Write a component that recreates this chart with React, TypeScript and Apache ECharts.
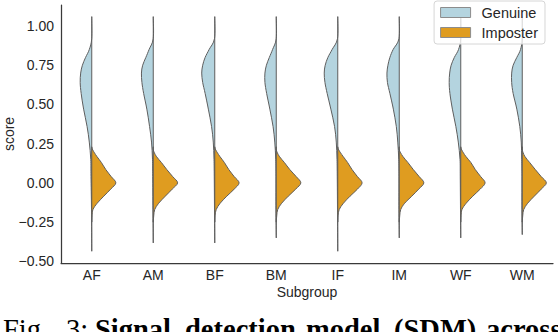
import React, { useEffect, useRef } from "react";
import * as echarts from "echarts";

// ---- data ----
const subgroups = ["AF", "AM", "BF", "BM", "IF", "IM", "WF", "WM"];
const yTickValues = [-0.5, -0.25, 0, 0.25, 0.5, 0.75, 1.0];

// Genuine (left half): score levels and relative density (1 = widest half of any violin)
const genuineLevels = [1.06, 0.92, 0.85, 0.8, 0.75, 0.7, 0.64, 0.57, 0.47, 0.36, 0.26, 0.15, 0.04, -0.17];
const genuineBottom = [-0.436, -0.383, -0.383, -0.351, -0.436, -0.351, -0.351, -0.33];
const genAF = [0, 0, 0.1, 0.25, 0.38, 0.45, 0.47, 0.43, 0.33, 0.19, 0.1, 0.04, 0.03, 0.01];
const genAM = [0, 0, 0.17, 0.3, 0.43, 0.48, 0.46, 0.39, 0.26, 0.15, 0.07, 0.03, 0.02, 0.01];
const genBF = [0, 0.01, 0.23, 0.39, 0.49, 0.53, 0.49, 0.39, 0.26, 0.13, 0.06, 0.03, 0.02, 0.01];
const genBM = [0, 0, 0.15, 0.28, 0.4, 0.46, 0.46, 0.39, 0.26, 0.13, 0.06, 0.02, 0.01, 0.01];
const genIF = [0, 0.01, 0.23, 0.4, 0.51, 0.55, 0.52, 0.43, 0.28, 0.13, 0.06, 0.03, 0.02, 0.01];
const genIM = [0, 0.01, 0.25, 0.38, 0.46, 0.5, 0.48, 0.38, 0.24, 0.12, 0.06, 0.02, 0.01, 0.01];
const genWF = [0, 0, 0.09, 0.26, 0.39, 0.45, 0.47, 0.44, 0.34, 0.2, 0.1, 0.03, 0.02, 0.01];
const genWM = [0, 0, 0.07, 0.22, 0.37, 0.43, 0.43, 0.37, 0.22, 0.1, 0.04, 0.02, 0.01, 0.01];

// Imposter (right half)
const imposterLevels = [0.23, 0.21, 0.17, 0.13, 0.085, 0.04, 0.0, -0.04, -0.085, -0.13, -0.17, -0.21, -0.25];
const impAF = [0, 0.04, 0.2, 0.39, 0.57, 0.79, 0.98, 0.77, 0.49, 0.22, 0.05, 0.01, 0];
const impAM = [0, 0, 0.12, 0.33, 0.55, 0.79, 0.99, 0.77, 0.49, 0.22, 0.06, 0.02, 0];
const impBF = [0, 0.04, 0.2, 0.39, 0.57, 0.79, 0.99, 0.79, 0.49, 0.22, 0.06, 0.01, 0];
const impBM = [0, 0, 0.12, 0.33, 0.55, 0.81, 1.0, 0.79, 0.49, 0.22, 0.06, 0.02, 0];
const impIF = [0, 0.04, 0.21, 0.4, 0.58, 0.8, 0.99, 0.8, 0.5, 0.23, 0.06, 0.01, 0];
const impIM = [0, 0, 0.14, 0.35, 0.57, 0.81, 1.0, 0.79, 0.51, 0.22, 0.06, 0.02, 0];
const impWF = [0, 0.04, 0.2, 0.41, 0.59, 0.81, 0.99, 0.79, 0.49, 0.22, 0.05, 0.01, 0];
const impWM = [0, 0, 0.1, 0.3, 0.53, 0.77, 0.98, 0.77, 0.49, 0.22, 0.06, 0.02, 0];

const genuineDensity = [genAF, genAM, genBF, genBM, genIF, genIM, genWF, genWM];
const imposterDensity = [impAF, impAM, impBF, impBM, impIF, impIM, impWF, impWM];

const captionWords = [
  { text: "Fig.", bold: false },
  { text: "3:", bold: false },
  { text: "Signal", bold: true },
  { text: "detection", bold: true },
  { text: "model", bold: true },
  { text: "(SDM)", bold: true },
  { text: "across", bold: true },
];
const captionX = [3, 66, 95, 185, 306, 394, 486];

// ---- styling ----
const GENUINE_COLOR = "#b4d4df";
const IMPOSTER_COLOR = "#df9c20";
const OUTLINE = "#5e5e5e";
const TEXT = "#262626";
const SANS = "'Liberation Sans', Arial, Helvetica, sans-serif";
// the chart canvas is a little larger than the 558x332 window so that the
// caption line can run past the bottom/right edge, as in the reference
const CANVAS_W = 572;
const CANVAS_H = 350;
const EXTRA_W = CANVAS_W - 558;

function smoothPath(pts: number[][]): string {
  let d = `M${pts[0][0]},${pts[0][1]}`;
  for (let k = 0; k < pts.length - 1; k++) {
    const p0 = pts[Math.max(k - 1, 0)];
    const p1 = pts[k];
    const p2 = pts[k + 1];
    const p3 = pts[Math.min(k + 2, pts.length - 1)];
    const c1x = p1[0] + (p2[0] - p0[0]) / 6;
    const c1y = p1[1] + (p2[1] - p0[1]) / 6;
    const c2x = p2[0] - (p3[0] - p1[0]) / 6;
    const c2y = p2[1] - (p3[1] - p1[1]) / 6;
    d += ` C${c1x},${c1y} ${c2x},${c2y} ${p2[0]},${p2[1]}`;
  }
  return d + " Z";
}

function makeRender(side: "left" | "right") {
  return (params: any, api: any) => {
    const i = api.value(0);
    const cx = api.coord([i, 0])[0];
    const band = api.size([1, 0])[0];
    const maxHalf = band * 0.4;
    const sign = side === "left" ? -1 : 1;
    const levels = side === "left" ? genuineLevels : imposterLevels;
    const dens = side === "left" ? genuineDensity[i] : imposterDensity[i];
    const pts: number[][] = levels.map((lv, k) => [cx + sign * dens[k] * maxHalf, api.coord([i, lv])[1]]);
    if (side === "left") pts.push([cx, api.coord([i, genuineBottom[i]])[1]]);
    return {
      type: "path",
      shape: { pathData: smoothPath(pts) },
      style: {
        fill: side === "left" ? GENUINE_COLOR : IMPOSTER_COLOR,
        stroke: OUTLINE,
        lineWidth: 1,
      },
    };
  };
}

export default function App() {
  const ref = useRef<HTMLDivElement>(null);
  useEffect(() => {
    document.body.style.margin = "0";
    document.body.style.overflow = "hidden";
    document.documentElement.style.overflow = "hidden";
    const chart = echarts.init(ref.current!, null, { renderer: "svg" });
    const seriesData = subgroups.map((_, i) => [i, 0]);
    chart.setOption({
      animation: false,
      backgroundColor: "#ffffff",
      textStyle: { fontFamily: SANS },
      grid: { left: 61, right: 5 + EXTRA_W, top: 5, bottom: 69 + (CANVAS_H - 332), outerBoundsMode: "none" },
      legend: {
        orient: "vertical",
        right: 13 + EXTRA_W,
        top: 1,
        icon: "rect",
        itemWidth: 30,
        itemHeight: 10,
        itemGap: 5,
        padding: [4, 7, 4, 6],
        selectedMode: false,
        backgroundColor: "rgba(255,255,255,0.8)",
        borderColor: "#d6d6d6",
        borderWidth: 1,
        borderRadius: 3,
        textStyle: { fontSize: 14.5, color: TEXT, fontFamily: SANS, padding: [0, 0, 0, 6] },
        data: [
          { name: "Genuine", itemStyle: { color: GENUINE_COLOR, borderColor: "#8c8c8c", borderWidth: 1 } },
          { name: "Imposter", itemStyle: { color: IMPOSTER_COLOR, borderColor: "#8c8c8c", borderWidth: 1 } },
        ],
      },
      xAxis: {
        type: "category",
        data: subgroups,
        boundaryGap: true,
        name: "Subgroup",
        nameLocation: "middle",
        nameGap: 22,
        nameMoveOverlap: false,
        nameTextStyle: { fontSize: 14, color: TEXT, fontFamily: SANS },
        axisLine: { show: true, onZero: false, lineStyle: { color: "#3a3a3a", width: 1.25 } },
        axisTick: { show: false },
        axisLabel: { fontSize: 14, color: TEXT, margin: 5, fontFamily: SANS },
        splitLine: { show: false },
      },
      yAxis: {
        type: "value",
        min: -0.511,
        max: 1.134,
        name: "score",
        nameLocation: "middle",
        nameRotate: 90,
        nameGap: 45,
        nameMoveOverlap: false,
        nameTextStyle: { fontSize: 14, color: TEXT, fontFamily: SANS },
        axisLine: { show: true, onZero: false, lineStyle: { color: "#3a3a3a", width: 1.25 } },
        axisTick: { show: false, customValues: yTickValues },
        axisLabel: {
          fontSize: 14,
          color: TEXT,
          margin: 7,
          fontFamily: SANS,
          customValues: yTickValues,
          formatter: (v: number) => v.toFixed(2).replace("-", "\u2212"),
        },
        splitLine: { show: false },
      },
      graphic: captionWords.map((w, k) => ({
        type: "text",
        x: captionX[k],
        y: 329.5,
        silent: true,
        style: {
          text: w.text,
          fill: "#000",
          fontFamily: "'Liberation Serif', 'Times New Roman', serif",
          fontSize: 28.5,
          fontWeight: w.bold ? "bold" : "normal",
          verticalAlign: "middle",
          align: "left",
        },
      })),
      series: [
        {
          name: "Genuine",
          type: "custom",
          renderItem: makeRender("left"),
          data: seriesData,
          encode: { x: 0, y: 1 },
          itemStyle: { color: GENUINE_COLOR },
          z: 2,
        },
        {
          name: "Imposter",
          type: "custom",
          renderItem: makeRender("right"),
          data: seriesData,
          encode: { x: 0, y: 1 },
          itemStyle: { color: IMPOSTER_COLOR },
          z: 3,
        },
      ],
    });
    return () => chart.dispose();
  }, []);
  return <div ref={ref} style={{ width: CANVAS_W, height: CANVAS_H }} />;
}
